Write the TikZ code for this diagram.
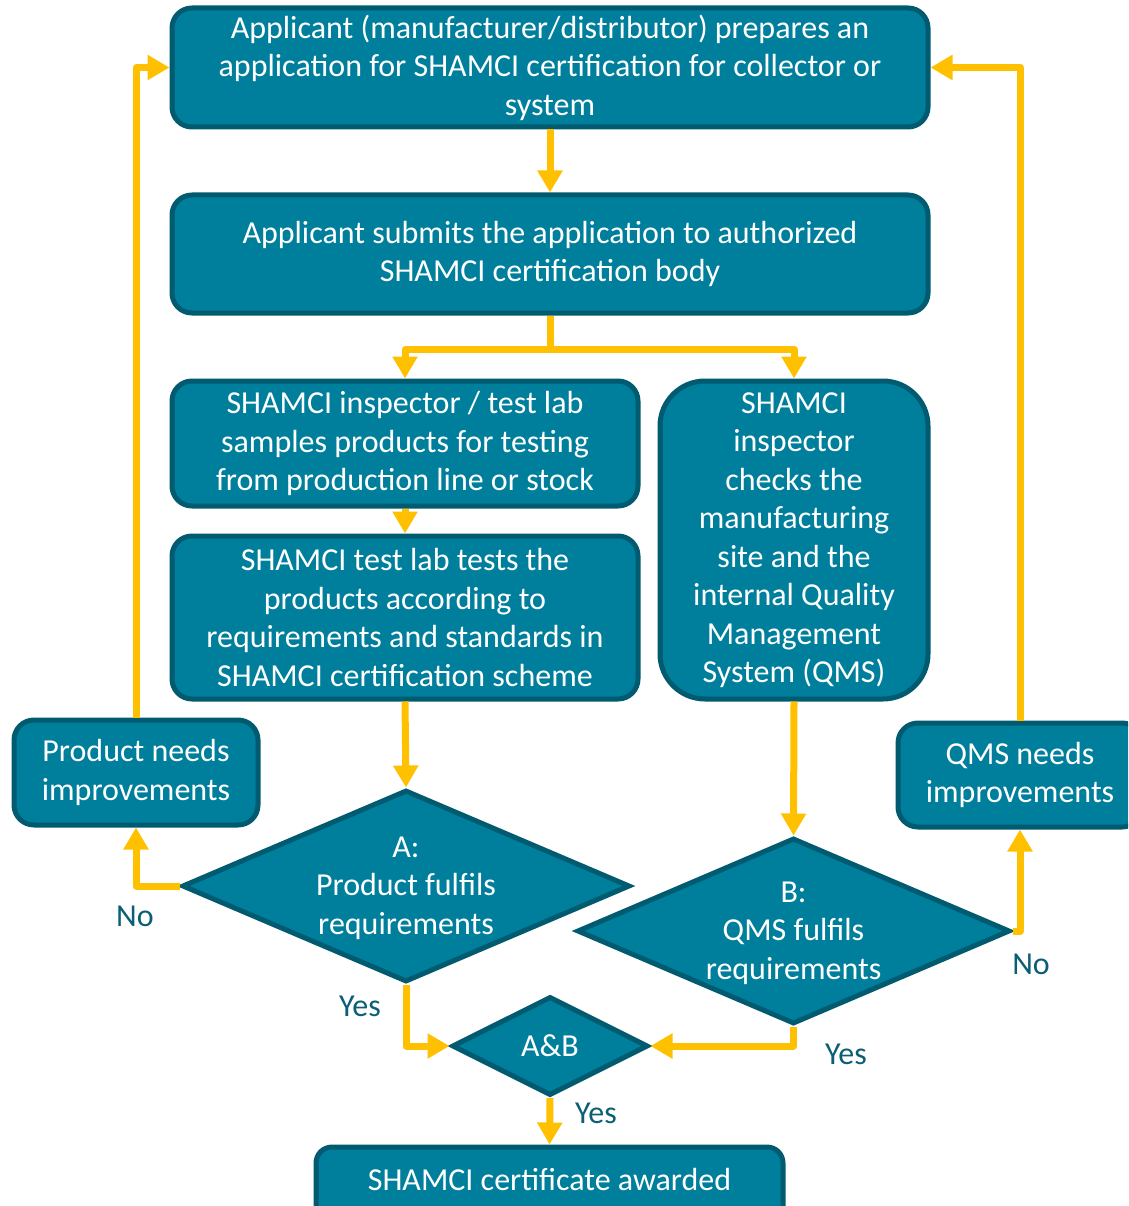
\documentclass[tikz,border=0pt]{standalone}
\usepackage{fontspec}
\setmainfont{Carlito}
\usetikzlibrary{arrows.meta,shapes.geometric}
\definecolor{boxfill}{HTML}{007F9D}
\definecolor{boxedge}{HTML}{005A70}
\definecolor{arrowc}{HTML}{FFC000}
\definecolor{labc}{HTML}{0B5F74}
\tikzset{
  box/.style={draw=boxedge, fill=boxfill, line width=5pt, rounded corners=20pt,
    text=white, align=center, inner sep=0pt, font=\fontsize{32}{38.5}\selectfont},
  dia/.style={draw=boxedge, fill=boxfill, line width=5pt, diamond, inner sep=0pt},
  diatext/.style={text=white, align=center, font=\fontsize{32}{38.5}\selectfont},
  conn/.style={draw=arrowc, line width=7pt, line join=round,
    -{Triangle[width=24pt,length=22pt]}},
  lab/.style={text=labc, font=\fontsize{32}{36}\selectfont, inner sep=0pt},
}
\begin{document}
\begin{tikzpicture}[x=1pt,y=-1pt]
\useasboundingbox (0,0) rectangle (1128,1206);
\clip (0,0) rectangle (1128,1206);
% boxes
\node[box, minimum width=756pt, minimum height=119pt] (app) at (550,67.5)
  {Applicant (manufacturer/distributor) prepares an\\application for SHAMCI certification for collector or\\system};
\node[box, minimum width=756pt, minimum height=118pt] (sub) at (550,254)
  {Applicant submits the application to authorized\\SHAMCI certification body};
\node[box, minimum width=466pt, minimum height=125pt] (samp) at (405,443.5)
  {SHAMCI inspector / test lab\\samples products for testing\\from production line or stock};
\node[box, minimum width=466pt, minimum height=163pt] (test) at (405,617.5)
  {SHAMCI test lab tests the\\products according to\\requirements and standards in\\SHAMCI certification scheme};
\node[box, rounded corners=45pt, minimum width=268pt, minimum height=318pt] (insp) at (794,540)
  {SHAMCI\\inspector\\checks the\\manufacturing\\site and the\\internal Quality\\Management\\System (QMS)};
\node[box, minimum width=244pt, minimum height=105pt] (prod) at (136,772.5)
  {Product needs\\improvements};
\node[box, minimum width=244pt, minimum height=104pt] (qms) at (1020,775)
  {QMS needs\\improvements};
\node[box, rounded corners=16pt, minimum width=467pt, minimum height=80pt] (cert) at (549.5,1187)
  {};
\node[diatext, anchor=base] at (549.5,1190) {SHAMCI certificate awarded};
% diamonds
\node[dia, minimum width=448pt, minimum height=192pt,
  label={[diatext, yshift=-2pt]center:{A:\\Product fulfils\\requirements}}] (A) at (406,886) {};
\node[dia, minimum width=433pt, minimum height=186pt,
  label={[diatext, yshift=-2pt]center:{B:\\QMS fulfils\\requirements}}] (B) at (793.5,931) {};
\node[dia, minimum width=196pt, minimum height=99pt,
  label={[diatext]center:{A\&B}}] (AB) at (550,1046) {};
% connectors
\draw[conn] (app.south) -- (sub.north);
\draw[conn] (sub.south) -- ++(0,34) -| (samp.north);
\draw[conn] (sub.south) -- ++(0,34) -| (insp.north);
\draw[conn] (samp.south) -- (test.north);
\draw[conn] (test.south) -- (A.north);
\draw[conn] (insp.south) -- (B.north);
\draw[conn] (A.west) -| (prod.south);
\draw[conn] (prod.north) |- (app.west);
\draw[conn] (B.east) -| (qms.south);
\draw[conn] (qms.north) |- (app.east);
\draw[conn] (A.south) |- (AB.west);
\draw[conn] (B.south) |- (AB.east);
\draw[conn] (AB.south) -- (cert.north);
% labels
\node[lab] (no1) at (135,916) {No};
\node[lab] (no2) at (1031,964) {No};
\node[lab] (yes1) at (360,1006) {Yes};
\node[lab] (yes2) at (846,1054) {Yes};
\node[lab] (yes3) at (596,1113) {Yes};
\end{tikzpicture}
\end{document}
